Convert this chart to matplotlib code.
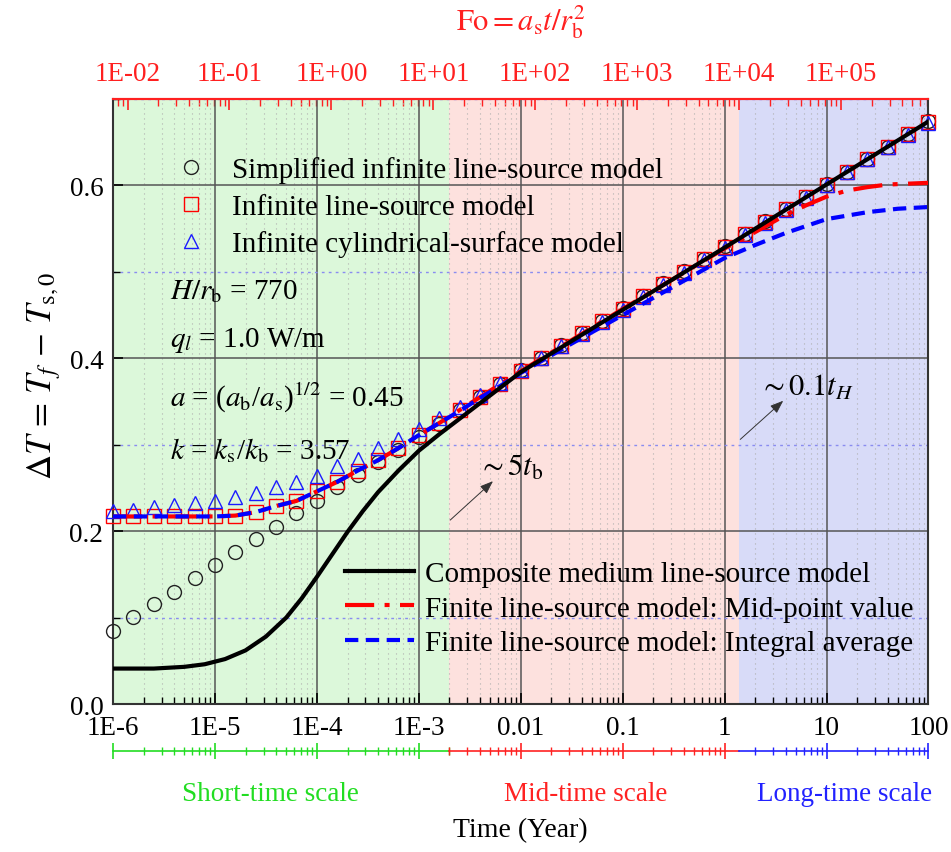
import numpy as np
import matplotlib
matplotlib.use("Agg")
import matplotlib.pyplot as plt
import matplotlib.ticker as ticker
import matplotlib.transforms as mtransforms

plt.rcParams["font.family"] = ["Liberation Serif", "DejaVu Serif"]
plt.rcParams["mathtext.fontset"] = "stix"

# ── data ──────────────────────────────────────────────────────────────────────

# marker abscissae: log10(time / year)
MARK_LOGT = [-6.0, -5.8, -5.6, -5.4, -5.2, -5.0, -4.8, -4.6, -4.4, -4.2,
             -4.0, -3.8, -3.6, -3.4, -3.2, -3.0, -2.8, -2.6, -2.4, -2.2,
             -2.0, -1.8, -1.6, -1.4, -1.2, -1.0, -0.8, -0.6, -0.4, -0.2,
             0.0, 0.2, 0.4, 0.6, 0.8, 1.0, 1.2, 1.4, 1.6, 1.8, 2.0]

SIMPLIFIED_ILS = [0.085, 0.101, 0.116, 0.130, 0.146, 0.161, 0.176, 0.191, 0.205, 0.221,
                  0.235, 0.251, 0.265, 0.280, 0.294, 0.309, 0.324, 0.340, 0.355, 0.370,
                  0.386, 0.400, 0.415, 0.429, 0.443, 0.458, 0.472, 0.487, 0.501, 0.515,
                  0.530, 0.544, 0.559, 0.573, 0.587, 0.602, 0.616, 0.631, 0.645, 0.659,
                  0.674]

ILS = [0.217, 0.217, 0.217, 0.217, 0.217, 0.217, 0.218, 0.222, 0.229, 0.235,
       0.246, 0.257, 0.270, 0.282, 0.296, 0.311, 0.325, 0.340, 0.355, 0.370,
       0.385, 0.400, 0.414, 0.429, 0.443, 0.457, 0.472, 0.486, 0.500, 0.515,
       0.529, 0.544, 0.558, 0.573, 0.587, 0.601, 0.616, 0.630, 0.645, 0.659,
       0.673]

ICS = [0.223, 0.225, 0.228, 0.230, 0.233, 0.235, 0.239, 0.244, 0.251, 0.257,
       0.264, 0.275, 0.284, 0.296, 0.307, 0.318, 0.331, 0.344, 0.357, 0.371,
       0.386, 0.400, 0.414, 0.428, 0.442, 0.456, 0.471, 0.485, 0.499, 0.514,
       0.528, 0.543, 0.557, 0.572, 0.586, 0.601, 0.615, 0.630, 0.644, 0.658,
       0.672]

# composite medium line-source model
CMLS_LOGT = [-6.0, -5.6, -5.3, -5.1, -4.9, -4.7, -4.5, -4.3, -4.15, -4.0,
             -3.85, -3.7, -3.55, -3.4, -3.2, -3.0, -2.8, -2.6, -2.4, -2.2,
             -2.0, -1.0, 0.0, 1.0, 2.0]
CMLS = [0.041, 0.041, 0.043, 0.046, 0.052, 0.062, 0.078, 0.100, 0.122, 0.147,
        0.173, 0.199, 0.223, 0.245, 0.270, 0.293, 0.312, 0.330, 0.348, 0.366,
        0.384, 0.456, 0.528, 0.601, 0.674]

# finite line-source model, mid-point value
FLS_MID_LOGT = [-6.0, -5.0, -4.8, -4.6, -4.4, -4.2, -4.0, -3.8, -3.6, -3.4,
                -3.2, -3.0, -2.8, -2.6, -2.4, -2.2, -2.0, -1.0, 0.0, 0.3,
                0.6, 0.8, 1.0, 1.2, 1.4, 1.6, 1.8, 2.0]
FLS_MID = [0.217, 0.217, 0.218, 0.222, 0.229, 0.235, 0.246, 0.257, 0.270, 0.282,
           0.296, 0.311, 0.325, 0.340, 0.355, 0.370, 0.385, 0.457, 0.527, 0.546,
           0.566, 0.577, 0.587, 0.594, 0.598, 0.601, 0.602, 0.603]

# finite line-source model, integral average
FLS_AVG_LOGT = [-6.0, -5.0, -4.8, -4.6, -4.4, -4.2, -4.0, -3.8, -3.6, -3.4,
                -3.2, -3.0, -2.8, -2.6, -2.4, -2.2, -2.0, -1.5, -1.0, -0.5,
                0.0, 0.3, 0.6, 1.0, 1.4, 1.7, 2.0]
FLS_AVG = [0.217, 0.217, 0.218, 0.222, 0.229, 0.235, 0.246, 0.257, 0.270, 0.282,
           0.296, 0.311, 0.325, 0.339, 0.354, 0.368, 0.383, 0.417, 0.450, 0.483,
           0.516, 0.531, 0.545, 0.561, 0.569, 0.573, 0.575]

# time-scale bands (year)
BAND_EDGES = [1e-6, 2e-3, 1.4, 100]
BAND_NAMES = ["Short-time scale", "Mid-time scale", "Long-time scale"]
BAND_LABEL_X = [3.5e-5, 4.3e-2, 15.0]

XTICKS = [1e-6, 1e-5, 1e-4, 1e-3, 1e-2, 1e-1, 1, 10, 100]
XTICK_LABELS = ["1E-6", "1E-5", "1E-4", "1E-3", "0.01", "0.1", "1", "10", "100"]
FO_TICKS = [1e-2, 1e-1, 1, 10, 1e2, 1e3, 1e4, 1e5]
FO_PER_YEAR = 7.2e3   # Fo = a_s t / r_b^2 per year of time

# ── styling ───────────────────────────────────────────────────────────────────

BAND_FILL = ["#dcf8da", "#fde1de", "#d8dbf8"]
BAND_LINE = ["#22dd22", "#ff2222", "#2222ff"]
RED = "#ff2020"
FS = 21      # legend / annotation text
TFS = 19.5   # tick labels
W, H = 951, 853

fig = plt.figure(figsize=(W / 100, H / 100), dpi=100)
ax = fig.add_axes([0.1188, 0.1735, 0.8575, 0.7093])

t_mark = 10 ** np.array(MARK_LOGT)

for lo, hi, c in zip(BAND_EDGES[:-1], BAND_EDGES[1:], BAND_FILL):
    ax.axvspan(lo, hi, color=c, lw=0, zorder=0)

ax.set_xscale("log")
ax.set_xlim(1e-6, 100)
ax.set_ylim(0, 0.7)

# grid
ax.xaxis.set_minor_locator(ticker.LogLocator(base=10, subs=np.arange(2, 10), numticks=20))
ax.yaxis.set_major_locator(ticker.MultipleLocator(0.2))
ax.yaxis.set_minor_locator(ticker.MultipleLocator(0.1))
ax.grid(True, which="major", color="#555555", lw=1.1, zorder=1)
ax.xaxis.grid(True, which="minor", color="#b0b0b0", lw=0.8, ls=(0, (1, 3.5)), zorder=1)
ax.yaxis.grid(True, which="minor", color="#8a8cf0", lw=1.0, ls=(0, (2, 3)), zorder=1)
ax.set_axisbelow(True)

# markers
mk = dict(ls="none", ms=10, mfc="none", mew=1.0, zorder=3, clip_on=False)
ax.plot(t_mark, SIMPLIFIED_ILS, marker="o", mec="#222222",
        label="Simplified infinite line-source model", **mk)
ax.plot(t_mark, ILS, marker="s", mec="#ff0000", label="Infinite line-source model", **mk)
ax.plot(t_mark, ICS, marker="^", mec="#1a1aff",
        label="Infinite cylindrical-surface model", **mk)

# lines
l1, = ax.plot(10 ** np.array(CMLS_LOGT), CMLS, color="black", lw=3, zorder=5,
              label="Composite medium line-source model")
l2, = ax.plot(10 ** np.array(FLS_MID_LOGT), FLS_MID, color="#ff0000", lw=3,
              ls=(0, (7, 2.5, 1.2, 2.5)), zorder=4,
              label="Finite line-source model: Mid-point value")
l3, = ax.plot(10 ** np.array(FLS_AVG_LOGT), FLS_AVG, color="#0000ff", lw=3,
              ls=(0, (3.2, 1.8)), zorder=4,
              label="Finite line-source model: Integral average")

# axes styling
ax.set_xticks(XTICKS)
ax.set_xticklabels(XTICK_LABELS)
ax.tick_params(axis="x", which="major", direction="in", length=8, width=1.2,
               labelsize=TFS, pad=8)
ax.tick_params(axis="x", which="minor", direction="in", length=5, width=1.0)
ax.tick_params(axis="y", which="major", direction="in", length=7, width=1.2,
               labelsize=TFS, pad=7, right=False)
ax.tick_params(axis="y", which="minor", direction="in", length=5, width=1.0)
ax.tick_params(top=False)
ax.yaxis.set_major_formatter(ticker.FormatStrFormatter("%.1f"))
for side in ["left", "bottom", "right"]:
    ax.spines[side].set_linewidth(1.5)
    ax.spines[side].set_color("#333333")
ax.spines["top"].set_color(RED)
ax.spines["top"].set_linewidth(1.5)

ax.set_ylabel(r"$\Delta T\, =\, T_{f}\, -\, T_{\rm s,0}$", fontsize=25)
ax.yaxis.set_label_coords(-0.085, 0.545)
ax.yaxis.label.set_verticalalignment("center")
ax.set_xlabel("Time (Year)", fontsize=20)
ax.xaxis.set_label_coords(0.5, -0.208)
ax.xaxis.label.set_verticalalignment("center")

# Fourier number axis on top
top = ax.secondary_xaxis("top", functions=(lambda t: t * FO_PER_YEAR,
                                           lambda f: f / FO_PER_YEAR))
top.set_xticks(FO_TICKS)
top.xaxis.set_major_formatter(ticker.FuncFormatter(
    lambda v, _: "1E%+03d" % int(round(np.log10(v)))))
top.xaxis.set_minor_locator(ticker.LogLocator(base=10, subs=np.arange(2, 10), numticks=20))
top.tick_params(which="major", direction="in", length=8, width=1.2, colors=RED,
                labelsize=TFS, pad=9)
top.tick_params(which="minor", direction="in", length=5, width=1.0, colors=RED)
top.spines["top"].set_color(RED)
top.spines["top"].set_linewidth(1.5)
fig.text(0.5476, 1 - 22 / H, r"$\mathrm{Fo} = a_{\rm s}t/r_{\rm b}^{2}$", color=RED,
         fontsize=22, ha="center", va="center")

# legends
leg1 = ax.legend(handles=ax.lines[:3], loc="upper left", bbox_to_anchor=(0.060, 0.905),
                 frameon=False, fontsize=FS, labelspacing=0.35, handletextpad=0.4,
                 borderpad=0, borderaxespad=0, handlelength=2.0)
ax.add_artist(leg1)
ax.legend(handles=[l1, l2, l3], loc="upper left", bbox_to_anchor=(0.2845, 0.237),
          frameon=False, fontsize=FS, labelspacing=0.28, handlelength=2.35,
          handletextpad=0.38, borderpad=0, borderaxespad=0)

# model parameters
params = [r"$H/r_{\rm b}$ = 770",
          r"$q_{l}$ = 1.0 W/m",
          r"$a$ = ($a_{\rm b}$/$a_{\rm s}$)$^{1/2}$ = 0.45",
          r"$k$ = $k_{\rm s}$/$k_{\rm b}$ = 3.57"]
for txt, yy in zip(params, [0.683, 0.602, 0.507, 0.421]):
    ax.text(0.07, yy, txt, transform=ax.transAxes, fontsize=FS, va="center")

# characteristic times
arrow = dict(arrowstyle="-|>,head_length=0.8,head_width=0.3", color="#333333", lw=0.7)
ax.annotate("", xy=(5.6e-3, 0.260), xytext=(1.94e-3, 0.2106), arrowprops=arrow, zorder=6)
ax.text(7.9e-3, 0.274, r"$\sim 5t_{\rm b}$", fontsize=22, ha="center", va="center")
ax.annotate("", xy=(3.94, 0.353), xytext=(1.36, 0.304), arrowprops=arrow, zorder=6)
ax.text(6.3, 0.367, r"$\sim 0.1t_{H}$", fontsize=22, ha="center", va="center")

# time-scale bars below the axis
fig.canvas.draw()
to_fig = fig.transFigure.inverted()
bar_y = (H - 752) / H
label_tr = mtransforms.blended_transform_factory(ax.transData, fig.transFigure)
for lo, hi, col, name, lx in zip(BAND_EDGES[:-1], BAND_EDGES[1:], BAND_LINE,
                                 BAND_NAMES, BAND_LABEL_X):
    x0 = to_fig.transform(ax.transData.transform((lo, 0)))[0]
    x1 = to_fig.transform(ax.transData.transform((hi, 0)))[0]
    bax = fig.add_axes([x0, bar_y, x1 - x0, 0.0001])
    bax.set_xscale("log")
    bax.set_xlim(lo, hi)
    bax.patch.set_visible(False)
    for s in ["top", "left", "right"]:
        bax.spines[s].set_visible(False)
    bax.spines["bottom"].set_color(col)
    bax.spines["bottom"].set_linewidth(1.2)
    bax.set_yticks([])
    bax.xaxis.set_major_locator(ticker.LogLocator(base=10, numticks=20))
    bax.xaxis.set_minor_locator(ticker.LogLocator(base=10, subs=np.arange(2, 10), numticks=20))
    bax.tick_params(axis="x", which="major", direction="inout", length=11, width=1.2,
                    color=col, labelbottom=False)
    bax.tick_params(axis="x", which="minor", direction="inout", length=6, width=1.0,
                    color=col)
    bax.xaxis.set_minor_formatter(ticker.NullFormatter())
    ax.text(lx, (H - 795) / H, name, transform=label_tr, color=col, fontsize=19.5,
            ha="center", va="center", clip_on=False)

fig.savefig("out.png", dpi=100)
